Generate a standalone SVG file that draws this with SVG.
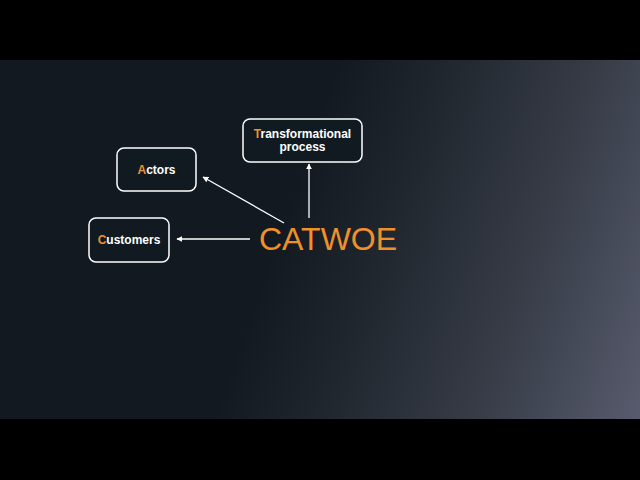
<svg xmlns="http://www.w3.org/2000/svg" width="640" height="480" viewBox="0 0 640 480">
<defs>
<linearGradient id="bg" gradientUnits="userSpaceOnUse" x1="275" y1="240" x2="656" y2="373">
<stop offset="0" stop-color="#121920"/>
<stop offset="0.25" stop-color="#20262e"/>
<stop offset="0.6" stop-color="#363b46"/>
<stop offset="1" stop-color="#575b6d"/>
</linearGradient>
<marker id="ah" viewBox="0 0 10 10" refX="9" refY="5" markerWidth="6" markerHeight="6" markerUnits="userSpaceOnUse" orient="auto">
<path d="M0,0 L10,5 L0,10 z" fill="#ffffff"/>
</marker>
<style>
.box{fill:#111a20;stroke:#ffffff;stroke-width:1.5}
.lbl{font-family:"Liberation Sans",Arial,sans-serif;font-weight:bold;font-size:12px;fill:#ffffff;text-anchor:middle}
.hl{fill:#f0902a}
.conn{stroke:#ffffff;stroke-width:1.3;fill:none;marker-end:url(#ah)}
</style>
</defs>
<rect x="0" y="0" width="640" height="480" fill="#000000"/>
<rect x="0" y="60" width="640" height="359" fill="url(#bg)"/>
<g id="connectors">
<line class="conn" x1="309" y1="218" x2="309" y2="164"/>
<line class="conn" x1="284" y1="223" x2="203" y2="177"/>
<line class="conn" x1="250" y1="239" x2="177" y2="239"/>
</g>
<g id="node-transformational">
<rect class="box" x="243" y="119" width="119" height="43" rx="7"/>
<text class="lbl" x="302.5" y="138"><tspan class="hl">T</tspan>ransformational</text>
<text class="lbl" x="302.5" y="151">process</text>
</g>
<g id="node-actors">
<rect class="box" x="117" y="148" width="79" height="43" rx="7"/>
<text class="lbl" x="156.5" y="174"><tspan class="hl">A</tspan>ctors</text>
</g>
<g id="node-customers">
<rect class="box" x="89" y="218" width="80" height="44" rx="7"/>
<text class="lbl" x="129" y="244"><tspan class="hl">C</tspan>ustomers</text>
</g>
<g id="node-catwoe">
<text x="259" y="250" font-family="'Liberation Sans',Arial,sans-serif" font-size="32" fill="#f0902a">CATWOE</text>
</g>
</svg>
